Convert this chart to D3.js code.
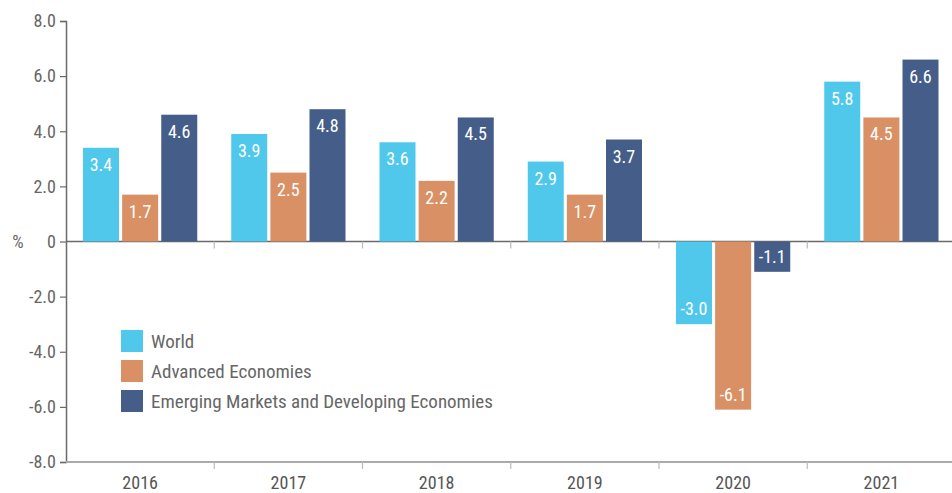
<!DOCTYPE html>
<html>
<head>
<meta charset="utf-8">
<script src="https://cdn.jsdelivr.net/npm/d3@7"></script>
<style>
  body { margin: 0; background: #fff; }
  svg text { font-family: "Roboto Condensed", "Roboto", sans-serif; font-stretch: condensed; }
</style>
</head>
<body>
<svg id="chart" width="952" height="493"></svg>
<script>
const years = ['2016', '2017', '2018', '2019', '2020', '2021'];
const seriesNames = ['World', 'Advanced Economies', 'Emerging Markets and Developing Economies'];
const world = [3.4, 3.9, 3.6, 2.9, -3.0, 5.8];
const advanced = [1.7, 2.5, 2.2, 1.7, -6.1, 4.5];
const emerging = [4.6, 4.8, 4.5, 3.7, -1.1, 6.6];
const yTicks = [8, 6, 4, 2, 0, -2, -4, -6, -8];
const colors = ['#4fc8ec', '#d99064', '#445e89'];

const fmt = v => v === 0 ? '0' : v.toFixed(1);   // plain hyphen for negatives

const svg = d3.select('#chart');
const margin = { top: 21, left: 66 };
const innerWidth = 889.5;
const innerHeight = 441;

const g = svg.append('g')
    .attr('transform', `translate(${margin.left},${margin.top})`);

const values = [world, advanced, emerging];
const data = years.map((yr, i) => ({
    year: yr,
    vals: values.map((s, k) => ({ key: seriesNames[k], k: k, v: s[i] }))
}));

const x0 = d3.scaleBand()
    .domain(years)
    .range([0, innerWidth]);

const x1 = d3.scaleBand()
    .domain(d3.range(3))
    .range([17, x0.bandwidth() - 17])
    .paddingInner(0.08);

const y = d3.scaleLinear()
    .domain([-8, 8])
    .range([innerHeight, 0]);

// y axis
const yAxis = g.append('g')
    .call(d3.axisLeft(y).tickValues(yTicks).tickSize(6).tickPadding(4).tickFormat(fmt));
yAxis.select('.domain').attr('stroke', '#6a6a6a').attr('stroke-width', 1.5);
yAxis.selectAll('.tick line').attr('stroke', '#6a6a6a').attr('stroke-width', 1.2);
yAxis.selectAll('.tick text')
    .attr('fill', '#666')
    .style('font-size', '18px');

g.append('text')
    .attr('x', -48)
    .attr('y', y(0))
    .attr('dy', '0.35em')
    .attr('text-anchor', 'middle')
    .attr('fill', '#666')
    .style('font-size', '18px')
    .text('%');

// zero line with group ticks
const zeroAxis = g.append('g')
    .attr('transform', `translate(0,${y(0)})`)
    .call(d3.axisBottom(x0).tickValues(years.slice(1)).tickSize(7).tickFormat(''));
zeroAxis.selectAll('.tick').attr('transform', d => `translate(${x0(d)},0)`);
zeroAxis.select('.domain').attr('stroke', '#6a6a6a').attr('stroke-width', 1.5).attr('d', `M0,0H${innerWidth}`);
zeroAxis.selectAll('.tick line').attr('stroke', '#bbb').attr('stroke-width', 1.2);

// bottom axis
const xAxis = g.append('g')
    .attr('transform', `translate(0,${innerHeight})`)
    .call(d3.axisBottom(x0).tickSize(0).tickPadding(14));
xAxis.select('.domain').attr('stroke', '#aaa').attr('stroke-width', 2).attr('d', `M0,0H${innerWidth}`);
xAxis.selectAll('.tick text')
    .attr('fill', '#555')
    .style('font-size', '18px');

g.append('g')
    .selectAll('line')
    .data(years.slice(1))
    .join('line')
    .attr('x1', d => x0(d)).attr('x2', d => x0(d))
    .attr('y1', innerHeight).attr('y2', innerHeight + 7)
    .attr('stroke', '#bbb')
    .attr('stroke-width', 1.2);

// bars
const groups = g.append('g')
    .selectAll('g')
    .data(data)
    .join('g')
    .attr('transform', d => `translate(${x0(d.year)},0)`);

groups.selectAll('rect')
    .data(d => d.vals)
    .join('rect')
    .attr('x', d => x1(d.k))
    .attr('width', x1.bandwidth())
    .attr('y', d => y(Math.max(0, d.v)))
    .attr('height', d => Math.abs(y(d.v) - y(0)))
    .attr('fill', d => colors[d.k]);

groups.selectAll('text')
    .data(d => d.vals)
    .join('text')
    .attr('x', d => x1(d.k) + x1.bandwidth() / 2)
    .attr('y', d => d.v >= 0 ? y(d.v) + 23 : y(d.v) - 9)
    .attr('text-anchor', 'middle')
    .attr('fill', '#fff')
    .style('font-size', '18px')
    .text(d => fmt(d.v));

// legend
const legend = svg.append('g')
    .attr('transform', 'translate(121,330)');
const items = legend.selectAll('g')
    .data(seriesNames)
    .join('g')
    .attr('transform', (d, i) => `translate(0,${i * 30})`);
items.append('rect')
    .attr('width', 22).attr('height', 22)
    .attr('fill', (d, i) => colors[i]);
items.append('text')
    .attr('x', 30).attr('y', 11)
    .attr('dy', '0.35em')
    .attr('fill', '#666')
    .style('font-size', '19px')
    .text(d => d);
</script>
</body>
</html>
